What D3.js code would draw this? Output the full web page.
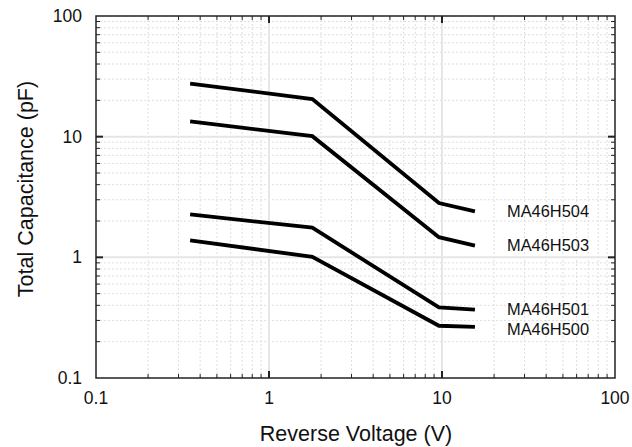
<!DOCTYPE html>
<html>
<head>
<meta charset="utf-8">
<title>Total Capacitance vs Reverse Voltage</title>
<script src="https://cdn.jsdelivr.net/npm/d3@7"></script>
<style>
	body, html { margin: 0; padding: 0; background: #fff; }
	svg text { font-family: "Liberation Sans", Arial, sans-serif; fill: #111; }
	.tick-label { font-size: 17.5px; }
	.axis-title { font-size: 21.5px; }
	.series-label { font-size: 16.4px; }
</style>
</head>
<body>
<svg id="chart"></svg>
<script>
	// voltage points (V) shared by all parts
	var voltages = [0.35, 1.78, 9.6, 15.5];

	// capacitance (pF) per part
	var seriesNames = ["MA46H504", "MA46H503", "MA46H501", "MA46H500"];
	var cap504 = [27.5, 20.5, 2.82, 2.4];
	var cap503 = [13.4, 10.1, 1.47, 1.25];
	var cap501 = [2.27, 1.76, 0.385, 0.368];
	var cap500 = [1.38, 1.01, 0.271, 0.265];

	var decadeTicks = [0.1, 1, 10, 100];
	var decadeLabels = ["0.1", "1", "10", "100"];

	var W = 632, H = 447;
	// plot box (note: "top" is reserved on window, so prefix these)
	var pL = 96, pR = 615, pT = 16, pB = 378;

	var svg = d3.select("#chart").attr("width", W).attr("height", H);

	var x = d3.scaleLog().domain([0.1, 100]).range([pL, pR]);
	var y = d3.scaleLog().domain([0.1, 100]).range([pB, pT]);

	// minor values 2..9 in each decade
	var minors = [];
	decadeTicks.slice(0, 3).forEach(function(d) {
		for (var k = 2; k < 10; k++) minors.push(d * k);
	});

	var grid = svg.append("g");

	// minor dashed grid
	grid.selectAll("line.vminor").data(minors).enter().append("line")
		.attr("x1", function(d) { return x(d); }).attr("x2", function(d) { return x(d); })
		.attr("y1", pT).attr("y2", pB)
		.attr("stroke", "#dedede").attr("stroke-width", 1).attr("stroke-dasharray", "2,2");
	grid.selectAll("line.hminor").data(minors).enter().append("line")
		.attr("y1", function(d) { return y(d); }).attr("y2", function(d) { return y(d); })
		.attr("x1", pL).attr("x2", pR)
		.attr("stroke", "#dedede").attr("stroke-width", 1).attr("stroke-dasharray", "2,2");

	// major solid grid
	var inner = decadeTicks.slice(1, 3);
	grid.selectAll("line.vmajor").data(inner).enter().append("line")
		.attr("x1", function(d) { return x(d); }).attr("x2", function(d) { return x(d); })
		.attr("y1", pT).attr("y2", pB)
		.attr("stroke", "#e6e6e6").attr("stroke-width", 2);
	grid.selectAll("line.hmajor").data(inner).enter().append("line")
		.attr("y1", function(d) { return y(d); }).attr("y2", function(d) { return y(d); })
		.attr("x1", pL).attr("x2", pR)
		.attr("stroke", "#e6e6e6").attr("stroke-width", 2);

	// ticks pointing inward on all four sides
	function tickSet(vals, len, width) {
		var g = svg.append("g").attr("stroke", "#222").attr("stroke-width", width);
		vals.forEach(function(d) {
			g.append("line").attr("x1", pL).attr("x2", pL + len).attr("y1", y(d)).attr("y2", y(d));
			g.append("line").attr("x1", pR).attr("x2", pR - len).attr("y1", y(d)).attr("y2", y(d));
			g.append("line").attr("y1", pB).attr("y2", pB - len).attr("x1", x(d)).attr("x2", x(d));
			g.append("line").attr("y1", pT).attr("y2", pT + len).attr("x1", x(d)).attr("x2", x(d));
		});
	}
	tickSet(minors, 4, 1);
	tickSet(inner, 7, 2);

	// frame
	svg.append("rect").attr("x", pL).attr("y", pT)
		.attr("width", pR - pL).attr("height", pB - pT)
		.attr("fill", "none").attr("stroke", "#222").attr("stroke-width", 1.5);

	// tick labels
	svg.selectAll("text.xl").data(decadeTicks).enter().append("text")
		.attr("class", "tick-label")
		.attr("x", function(d) { return x(d); }).attr("y", 404)
		.attr("text-anchor", "middle")
		.text(function(d, i) { return decadeLabels[i]; });
	svg.selectAll("text.yl").data(decadeTicks).enter().append("text")
		.attr("class", "tick-label")
		.attr("x", 82).attr("y", function(d) { return y(d); })
		.attr("dy", "0.35em")
		.attr("text-anchor", "end")
		.text(function(d, i) { return decadeLabels[i]; });

	// axis titles
	svg.append("text").attr("class", "axis-title")
		.attr("x", 356).attr("y", 441)
		.attr("text-anchor", "middle")
		.text("Reverse Voltage (V)");
	svg.append("text").attr("class", "axis-title")
		.attr("transform", "translate(33,189) rotate(-90)")
		.attr("text-anchor", "middle")
		.text("Total Capacitance (pF)");

	// curves
	var allSeries = [cap504, cap503, cap501, cap500];
	var line = d3.line()
		.x(function(d, i) { return x(voltages[i]); })
		.y(function(d) { return y(d); });

	svg.selectAll("path.curve").data(allSeries).enter().append("path")
		.attr("d", line)
		.attr("fill", "none").attr("stroke", "#000").attr("stroke-width", 3.8)
		.attr("stroke-linejoin", "miter");

	// part labels, placed near the end of each curve
	var labelOffsets = [0, 0, 0, 2];
	svg.selectAll("text.series-label").data(allSeries).enter().append("text")
		.attr("class", "series-label")
		.attr("x", 507)
		.attr("y", function(d, i) { return y(d[d.length - 1]) + labelOffsets[i]; })
		.attr("dy", "0.35em")
		.text(function(d, i) { return seriesNames[i]; });
</script>
</body>
</html>
